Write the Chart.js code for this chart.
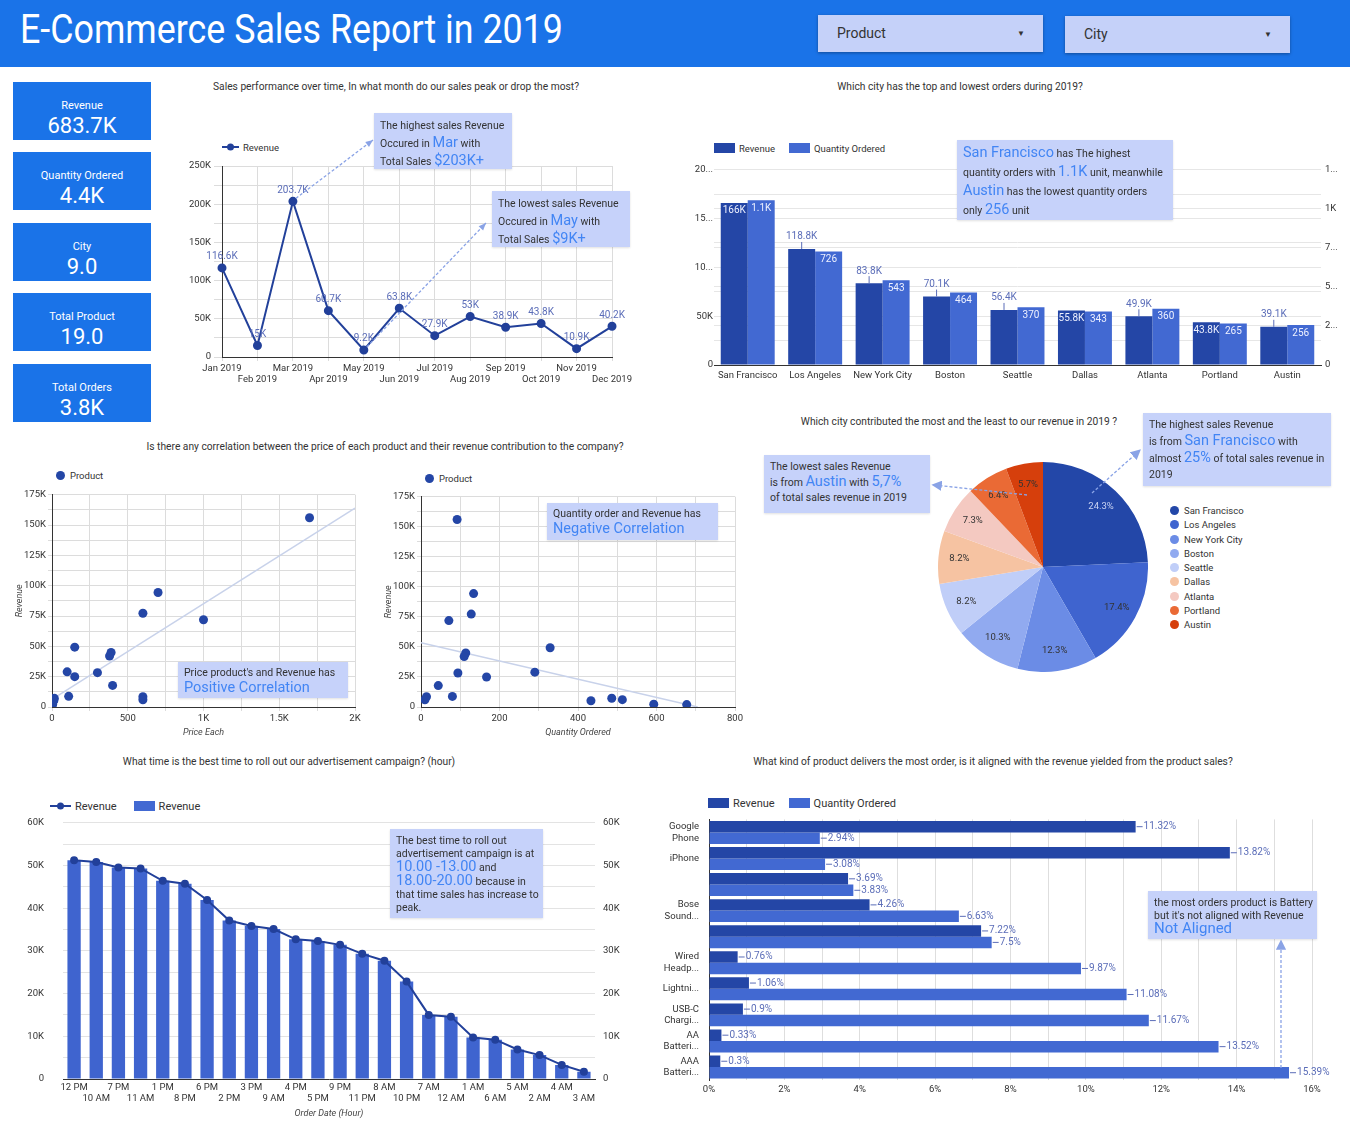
<!DOCTYPE html>
<html>
<head>
<meta charset="utf-8">
<title>E-Commerce Sales Report in 2019</title>
<script src="https://cdn.jsdelivr.net/npm/chart.js@4.4.0/dist/chart.umd.min.js"></script>
<style>
body { margin:0; width:1350px; height:1125px; position:relative; background:#fff; font-family:Roboto, sans-serif; color:#333; overflow:hidden; }
.abs { position:absolute; }
#header { left:0; top:0; width:1350px; height:67px; background:#1a73e8; }
#header h1 { position:absolute; left:20px; top:6px; margin:0; font-weight:400; font-size:40px; color:#fff; transform:scaleX(0.895); transform-origin:left; white-space:nowrap; }
.dd { background:#c5d1f9; box-shadow:0 1px 3px rgba(0,0,0,.35); font-size:14px; width:225px; height:37px; line-height:37px; }
.dd span { margin-left:19px; }
.dd i { position:absolute; right:18px; top:0; font-style:normal; font-size:8px; }
.kpi { left:13px; width:138px; height:58px; background:#1a73e8; color:#fff; text-align:center; }
.kpi .l { font-size:11px; line-height:12px; margin-top:18px; }
.kpi .v { font-size:22px; line-height:22px; margin-top:3px; }
.title { width:700px; text-align:center; font-size:11px; white-space:nowrap; transform:scaleX(0.93); }
.box { position:absolute; }
.note { background:#c6d2fa; font-size:10.5px; line-height:17px; padding:4px 6px; box-sizing:border-box; white-space:nowrap; z-index:5; box-shadow:0 1px 2px rgba(0,0,0,.12); }
.big { color:#4285f4; font-size:14.5px; }
.lg { font-size:9.5px; white-space:nowrap; }
.sq { display:inline-block; width:21px; height:10px; vertical-align:-1px; margin-right:4px; }
.dot { display:inline-block; width:9px; height:9px; border-radius:50%; vertical-align:-1px; margin-right:5px; }
svg { position:absolute; left:0; top:0; z-index:6; pointer-events:none; }
</style>
</head>
<body>
<div id="header" class="abs"><h1>E-Commerce Sales Report in 2019</h1></div>
<div class="abs dd" style="left:818px;top:15px;"><span>Product</span><i>&#9660;</i></div>
<div class="abs dd" style="left:1065px;top:16px;"><span>City</span><i>&#9660;</i></div>

<div class="abs kpi" style="top:82px;"><div class="l">Revenue</div><div class="v">683.7K</div></div>
<div class="abs kpi" style="top:152px;"><div class="l">Quantity Ordered</div><div class="v">4.4K</div></div>
<div class="abs kpi" style="top:223px;"><div class="l">City</div><div class="v">9.0</div></div>
<div class="abs kpi" style="top:293px;"><div class="l">Total Product</div><div class="v">19.0</div></div>
<div class="abs kpi" style="top:364px;"><div class="l">Total Orders</div><div class="v">3.8K</div></div>

<div class="abs title" style="left:46px;top:80px;">Sales performance over time, In what month do our sales peak or drop the most?</div>
<div class="abs title" style="left:610px;top:80px;">Which city has the top and lowest orders during 2019?</div>
<div class="abs title" style="left:35px;top:440px;">Is there any correlation between the price of each product and their revenue contribution to the company?</div>
<div class="abs title" style="left:609px;top:415px;">Which city contributed the most and the least to our revenue in 2019 ?</div>
<div class="abs title" style="left:-61px;top:755px;">What time is the best time to roll out our advertisement campaign? (hour)</div>
<div class="abs title" style="left:643px;top:755px;">What kind of product delivers the most order, is it aligned with the revenue yielded from the product sales?</div>

<!-- legends -->
<div class="abs lg" style="left:222px;top:142px;"><svg width="17" height="10" style="position:static;vertical-align:-1px;margin-right:4px"><line x1="0" y1="5" x2="17" y2="5" stroke="#22409a" stroke-width="2"/><circle cx="8.5" cy="5" r="3.5" fill="#22409a"/></svg>Revenue</div>
<div class="abs lg" style="left:714px;top:143px;"><span class="sq" style="background:#2446a6"></span>Revenue<span class="sq" style="background:#4269d2;margin-left:14px"></span>Quantity Ordered</div>
<div class="abs lg" style="left:56px;top:470px;"><span class="dot" style="background:#2446a6"></span>Product</div>
<div class="abs lg" style="left:425px;top:473px;"><span class="dot" style="background:#2446a6"></span>Product</div>
<div class="abs lg" style="left:50px;top:800px;font-size:11px;"><svg width="21" height="10" style="position:static;vertical-align:-1px;margin-right:4px"><line x1="0" y1="5" x2="21" y2="5" stroke="#22409a" stroke-width="2"/><circle cx="10.5" cy="5" r="3.5" fill="#22409a"/></svg>Revenue<span class="sq" style="background:#4269d2;margin-left:17px"></span>Revenue</div>
<div class="abs lg" style="left:708px;top:797px;font-size:11px;"><span class="sq" style="background:#2446a6"></span>Revenue<span class="sq" style="background:#4269d2;margin-left:14px"></span>Quantity Ordered</div>
<div id="pieLegend" class="abs lg" style="left:1170px;top:504px;"></div>

<!-- charts -->
<div class="box" style="left:182px;top:110px;width:452px;height:281px;"><canvas id="monthChart"></canvas></div>
<div class="box" style="left:680px;top:160px;width:667px;height:227px;"><canvas id="cityChart"></canvas></div>
<div class="box" style="left:6px;top:487px;width:361px;height:254px;"><canvas id="priceChart"></canvas></div>
<div class="box" style="left:375px;top:489px;width:372px;height:252px;"><canvas id="qtyChart"></canvas></div>
<div class="box" style="left:938px;top:462px;width:210px;height:210px;"><canvas id="pieChart"></canvas></div>
<div class="box" style="left:12px;top:798px;width:615px;height:321px;"><canvas id="hourChart"></canvas></div>
<div class="box" style="left:650px;top:806px;width:687px;height:294px;"><canvas id="productChart"></canvas></div>

<!-- notes -->
<div class="abs note" style="left:374px;top:113px;width:138px;height:56px;">The highest sales Revenue<br>Occured in <span class="big">Mar</span> with<br>Total Sales <span class="big">$203K+</span></div>
<div class="abs note" style="left:492px;top:191px;width:138px;height:56px;">The lowest sales Revenue<br>Occured in <span class="big">May</span> with<br>Total Sales <span class="big">$9K+</span></div>
<div class="abs note" style="left:957px;top:140px;width:216px;height:80px;line-height:18px;"><span class="big">San Francisco</span> has The highest<br>quantity orders with <span class="big">1.1K</span> unit, meanwhile<br><span class="big">Austin</span> has the lowest quantity orders<br>only <span class="big">256</span> unit</div>
<div class="abs note" style="left:178px;top:662px;width:170px;height:36px;line-height:15px;padding-top:3px;">Price product's and Revenue has<br><span class="big">Positive Correlation</span></div>
<div class="abs note" style="left:547px;top:503px;width:171px;height:37px;line-height:15px;padding-top:3px;">Quantity order and Revenue has<br><span class="big">Negative Correlation</span></div>
<div class="abs note" style="left:1143px;top:413px;width:188px;height:73px;line-height:16px;">The highest sales Revenue<br>is from <span class="big">San Francisco</span> with<br>almost <span class="big">25%</span> of total sales revenue in<br>2019</div>
<div class="abs note" style="left:764px;top:455px;width:166px;height:58px;line-height:15px;">The lowest sales Revenue<br>is from <span class="big">Austin</span> with <span class="big">5,7%</span><br>of total sales revenue in 2019</div>
<div class="abs note" style="left:390px;top:829px;width:153px;height:89px;line-height:13px;padding-top:5px;">The best time to roll out<br>advertisement campaign is at<br><span class="big">10.00 -13.00</span> and<br><span class="big">18.00-20.00</span> because in<br>that time sales has increase to<br>peak.</div>
<div class="abs note" style="left:1148px;top:891px;width:169px;height:48px;line-height:13px;padding-top:5px;">the most orders product is Battery<br>but it's not aligned with Revenue<br><span class="big" style="font-size:15px">Not Aligned</span></div>

<svg width="1350" height="1125">
  <defs><marker id="ah" markerWidth="8" markerHeight="8" refX="6" refY="4" orient="auto"><path d="M0,0 L8,4 L0,8 z" fill="#8aa3e6"/></marker></defs>
  <g stroke="#8aa3e6" stroke-width="1.3" stroke-dasharray="3,2" fill="none" marker-end="url(#ah)">
    <line x1="1092" y1="493" x2="1139" y2="451"/>
    <line x1="1027" y1="495" x2="934" y2="485"/>
    <line x1="1281" y1="1068" x2="1281" y2="942"/>
  </g>
</svg>

<script>
// Sales per month
const months = ['Jan 2019', 'Feb 2019', 'Mar 2019', 'Apr 2019', 'May 2019', 'Jun 2019',
    'Jul 2019', 'Aug 2019', 'Sep 2019', 'Oct 2019', 'Nov 2019', 'Dec 2019'];
const monthRevenue = [116600, 15000, 203700, 60700, 9200, 63800, 27900, 53000, 38900, 43800, 10900, 40200];

// Orders per city
const cities = ['San Francisco', 'Los Angeles', 'New York City', 'Boston', 'Seattle', 'Dallas', 'Atlanta', 'Portland', 'Austin'];
const cityRevenue = [166000, 118800, 83800, 70100, 56400, 55800, 49900, 43800, 39100];
const cityQty = [1055, 726, 543, 464, 370, 343, 360, 265, 256];

// Products (one entry per product, same order in each array)
const priceEach = [1700, 700, 600, 1000, 150, 390, 380, 100, 300, 150, 400, 110, 600, 600, 15, 12, 12, 4, 3];
const productQty = [92, 134, 128, 71, 329, 114, 110, 290, 94, 167, 44, 80, 14, 10, 486, 513, 433, 593, 677];
const productRevenue = [156000, 94400, 77300, 71900, 49300, 44900, 42000, 29000, 28300, 25000, 17800, 8800, 8500, 6000, 7300, 6100, 5200, 2300, 2000];
const priceTrend = [[0, 6300], [2000, 164000]];
const qtyTrend = [[0, 53500], [705, 0]];

// Revenue by hour (sorted)
const hours = ['12 PM', '10 AM', '7 PM', '11 AM', '1 PM', '8 PM', '6 PM', '2 PM', '3 PM', '9 AM', '4 PM', '5 PM',
    '9 PM', '11 PM', '8 AM', '10 PM', '7 AM', '12 AM', '1 AM', '6 AM', '5 AM', '2 AM', '4 AM', '3 AM'];
const hourRevenue = [51200, 50800, 49500, 49300, 46400, 45700, 41900, 37100, 35800, 35100, 32700, 32300,
    31400, 29300, 27700, 22800, 15000, 14600, 9700, 9200, 6900, 5600, 3300, 1700];

// Product share (%)
const productNames = [['Google', 'Phone'], 'iPhone', '', ['Bose', 'Sound...'], '', ['Wired', 'Headp...'],
    'Lightni...', ['USB-C', 'Chargi...'], ['AA', 'Batteri...'], ['AAA', 'Batteri...']];
const productRevPct = [11.32, 13.82, 3.69, 4.26, 7.22, 0.76, 1.06, 0.9, 0.33, 0.3];
const productQtyPct = [2.94, 3.08, 3.83, 6.63, 7.5, 9.87, 11.08, 11.67, 13.52, 15.39];

const darkBlue = '#2446a6';
const midBlue = '#4269d2';
const navy = '#22409a';
const labelBlue = '#5b6db8';
const gridColor = '#dcdcdc';
const cityColors = ['#2347a8', '#3f64cf', '#6b8ce6', '#91aaf0', '#c0cef8', '#f6c3a2', '#f4c9c1', '#ea6a35', '#d63f0c'];

Chart.defaults.font.family = 'Roboto, sans-serif';
Chart.defaults.font.size = 9.5;
Chart.defaults.color = '#444';
Chart.defaults.animation = false;
Chart.defaults.maintainAspectRatio = false;
Chart.defaults.plugins.legend.display = false;
Chart.defaults.plugins.tooltip.enabled = false;

function fmtK(v) {
    if (v === 0) return '0';
    if (Math.abs(v) >= 1000) return (+(v / 1000).toFixed(1)) + 'K';
    return String(v);
}

function dashedArrow(ctx, x1, y1, x2, y2) {
    ctx.save();
    ctx.strokeStyle = '#8aa3e6';
    ctx.fillStyle = '#8aa3e6';
    ctx.lineWidth = 1.3;
    ctx.setLineDash([3, 2]);
    ctx.beginPath();
    ctx.moveTo(x1, y1);
    ctx.lineTo(x2, y2);
    ctx.stroke();
    const a = Math.atan2(y2 - y1, x2 - x1);
    ctx.setLineDash([]);
    ctx.beginPath();
    ctx.moveTo(x2, y2);
    ctx.lineTo(x2 - 8 * Math.cos(a - 0.4), y2 - 8 * Math.sin(a - 0.4));
    ctx.lineTo(x2 - 8 * Math.cos(a + 0.4), y2 - 8 * Math.sin(a + 0.4));
    ctx.closePath();
    ctx.fill();
    ctx.restore();
}

// Curve 1 - monthly revenue
const monthLabels = {
    id: 'monthLabels',
    afterDatasetsDraw(chart) {
        const ctx = chart.ctx;
        const pts = chart.getDatasetMeta(0).data;
        ctx.save();
        ctx.font = '10px Roboto';
        ctx.fillStyle = labelBlue;
        ctx.textAlign = 'center';
        ctx.textBaseline = 'bottom';
        pts.forEach((p, i) => ctx.fillText(fmtK(monthRevenue[i]), p.x, p.y - 6));
        ctx.restore();
        // arrows from the peak and the low point to the notes
        dashedArrow(chart.ctx, pts[2].x + 3, pts[2].y - 3, 191, 30);
        dashedArrow(chart.ctx, pts[4].x + 3, pts[4].y - 3, 304, 113);
    }
};

new Chart(document.getElementById('monthChart'), {
    type: 'line',
    data: {
        labels: months,
        datasets: [{
            data: monthRevenue,
            borderColor: navy,
            backgroundColor: navy,
            borderWidth: 2,
            pointRadius: 3.5,
            tension: 0
        }]
    },
    options: {
        layout: { padding: { top: 56, right: 20 } },
        scales: {
            x: {
                offset: false,
                grid: { color: gridColor, tickLength: 4 },
                border: { color: '#333' },
                ticks: {
                    autoSkip: false, maxRotation: 0, padding: 2, color: '#333',
                    callback: (v, i) => i % 2 ? ['', months[i]] : months[i]
                },
                afterFit: s => { s.height = 34; }
            },
            y: {
                min: 0, max: 250000,
                grid: { color: gridColor },
                border: { color: '#333' },
                ticks: { stepSize: 25000, color: '#333', callback: v => v % 50000 ? '' : fmtK(v) },
                afterFit: s => { s.width = 40; }
            }
        }
    },
    plugins: [monthLabels]
});

// Curve 2 - city revenue vs quantity
const revInside = [true, false, false, false, false, true, false, true, false];
const qtyInside = [true, true, true, true, true, true, true, true, true];
const cityLabels = {
    id: 'cityLabels',
    afterDatasetsDraw(chart) {
        const ctx = chart.ctx;
        ctx.save();
        ctx.font = '10px Roboto';
        ctx.textAlign = 'center';
        [[cityRevenue, revInside], [cityQty, qtyInside]].forEach((pair, d) => {
            chart.getDatasetMeta(d).data.forEach((bar, i) => {
                const txt = fmtK(pair[0][i]);
                if (pair[1][i]) {
                    ctx.fillStyle = '#eef1ff';
                    ctx.textBaseline = 'top';
                    ctx.fillText(txt, bar.x, bar.y + 3);
                } else {
                    ctx.strokeStyle = labelBlue;
                    ctx.lineWidth = 1;
                    ctx.beginPath();
                    ctx.moveTo(bar.x, bar.y);
                    ctx.lineTo(bar.x, bar.y - 7);
                    ctx.stroke();
                    ctx.fillStyle = labelBlue;
                    ctx.textBaseline = 'bottom';
                    ctx.fillText(txt, bar.x, bar.y - 7);
                }
            });
        });
        ctx.restore();
    }
};

new Chart(document.getElementById('cityChart'), {
    type: 'bar',
    data: {
        labels: cities,
        datasets: [
            { label: 'Revenue', data: cityRevenue, backgroundColor: darkBlue, yAxisID: 'y' },
            { label: 'Quantity Ordered', data: cityQty, backgroundColor: midBlue, yAxisID: 'y1' }
        ]
    },
    options: {
        layout: { padding: { top: 6 } },
        datasets: { bar: { categoryPercentage: 0.8, barPercentage: 1 } },
        scales: {
            x: {
                grid: { display: false, tickLength: 0 },
                border: { color: '#333' },
                ticks: { color: '#333', maxRotation: 0, autoSkip: false, padding: 5 },
                afterFit: s => { s.height = 22; }
            },
            y: {
                min: 0, max: 200000,
                grid: { color: '#e6e6e6', tickLength: 0 },
                border: { display: false },
                ticks: {
                    stepSize: 25000, color: '#333', padding: 1,
                    callback: v => v === 0 ? '0' : v % 50000 ? '' : v === 50000 ? '50K' : String(v / 1000).slice(0, 2) + '...'
                },
                afterFit: s => { s.width = 34; }
            },
            y1: {
                position: 'right',
                min: 0, max: 1250,
                grid: { color: '#e6e6e6', tickLength: 0 },
                border: { display: false },
                ticks: {
                    stepSize: 250, color: '#333', padding: 4,
                    callback: v => v === 0 ? '0' : v === 1000 ? '1K' : String(v).slice(0, 1) + '...'
                },
                afterFit: s => { s.width = 26; }
            }
        }
    },
    plugins: [cityLabels]
});

// Curve 3 & 4 - correlation scatters
function scatterChart(id, xs, trend, xMax, xStep, xLabelStep, xTitle) {
    return new Chart(document.getElementById(id), {
        type: 'scatter',
        data: {
            datasets: [{
                data: xs.map((x, i) => ({ x: x, y: productRevenue[i] })),
                backgroundColor: darkBlue,
                pointRadius: 4.5,
                borderWidth: 0,
                order: 1
            }, {
                type: 'line',
                data: trend.map(p => ({ x: p[0], y: p[1] })),
                borderColor: '#c8d2ea',
                borderWidth: 1.5,
                pointRadius: 0,
                order: 2
            }]
        },
        options: {
            layout: { padding: { top: 6, right: 12 } },
            scales: {
                x: {
                    type: 'linear', min: 0, max: xMax,
                    grid: { color: gridColor, tickLength: 4 },
                    border: { color: '#333' },
                    ticks: { stepSize: xStep, color: '#333', padding: 2, callback: v => v % xLabelStep ? '' : fmtK(v) },
                    title: { display: true, text: xTitle, font: { style: 'italic', size: 9 }, padding: 3, color: '#444' },
                    afterFit: s => { s.height = 34; }
                },
                y: {
                    min: 0, max: 175000,
                    grid: { color: gridColor, tickLength: 4 },
                    border: { color: '#333' },
                    ticks: { stepSize: 12500, color: '#333', padding: 2, callback: v => v % 25000 ? '' : fmtK(v) },
                    title: { display: true, text: 'Revenue', font: { style: 'italic', size: 9 }, padding: { top: 8, bottom: 0 }, color: '#444' },
                    afterFit: s => { s.width = 46; }
                }
            }
        }
    });
}
scatterChart('priceChart', priceEach, priceTrend, 2000, 250, 500, 'Price Each');
scatterChart('qtyChart', productQty, qtyTrend, 800, 100, 200, 'Quantity Ordered');

// Curve 5 - revenue share by city
const pieLabels = {
    id: 'pieLabels',
    afterDatasetsDraw(chart) {
        const ctx = chart.ctx;
        const total = cityRevenue.reduce((a, b) => a + b, 0);
        ctx.save();
        ctx.font = '9.5px Roboto';
        ctx.textAlign = 'center';
        ctx.textBaseline = 'middle';
        chart.getDatasetMeta(0).data.forEach((arc, i) => {
            const a = (arc.startAngle + arc.endAngle) / 2;
            const r = arc.outerRadius * 0.8;
            ctx.fillStyle = i === 0 ? '#c9d3f2' : '#333';
            ctx.fillText((cityRevenue[i] / total * 100).toFixed(1) + '%', arc.x + r * Math.cos(a), arc.y + r * Math.sin(a));
        });
        ctx.restore();
    }
};

new Chart(document.getElementById('pieChart'), {
    type: 'pie',
    data: {
        labels: cities,
        datasets: [{ data: cityRevenue, backgroundColor: cityColors, borderWidth: 0 }]
    },
    options: { layout: { padding: 0 } },
    plugins: [pieLabels]
});

document.getElementById('pieLegend').innerHTML = cities.map((c, i) =>
    '<div style="height:14.3px;line-height:14.3px"><span class="dot" style="background:' + cityColors[i] + '"></span>' + c + '</div>'
).join('');

// Curve 6 - revenue by hour
new Chart(document.getElementById('hourChart'), {
    type: 'bar',
    data: {
        labels: hours,
        datasets: [{
            type: 'line',
            data: hourRevenue,
            borderColor: navy,
            backgroundColor: navy,
            borderWidth: 2,
            pointRadius: 3,
            order: 0
        }, {
            data: hourRevenue,
            backgroundColor: '#3f64cf',
            categoryPercentage: 0.6,
            barPercentage: 1,
            order: 1
        }]
    },
    options: {
        layout: { padding: { top: 0 } },
        scales: {
            x: {
                grid: { display: false, tickLength: 0 },
                border: { color: '#333' },
                ticks: {
                    autoSkip: false, maxRotation: 0, color: '#333', padding: 3,
                    callback: (v, i) => i % 2 ? ['', hours[i]] : hours[i]
                },
                title: { display: true, text: 'Order Date (Hour)', font: { style: 'italic', size: 9 }, padding: 0, color: '#444' },
                afterFit: s => { s.height = 40; }
            },
            y: {
                min: 0, max: 60000,
                grid: { color: '#e3e3e3', tickLength: 0 },
                border: { display: false },
                ticks: { stepSize: 5000, color: '#333', padding: 19, callback: v => v % 10000 ? '' : fmtK(v) },
                afterFit: s => { s.width = 51; }
            },
            y1: {
                position: 'right',
                min: 0, max: 60000,
                grid: { drawOnChartArea: false, display: false },
                border: { display: false },
                ticks: { stepSize: 10000, color: '#333', padding: 0, callback: v => fmtK(v) },
                afterFit: s => { s.width = 32; }
            }
        }
    }
});

// Curve 7 - product share of revenue and orders
const productLabels = {
    id: 'productLabels',
    afterDatasetsDraw(chart) {
        const ctx = chart.ctx;
        ctx.save();
        ctx.font = '10px Roboto';
        ctx.textBaseline = 'middle';
        ctx.strokeStyle = labelBlue;
        ctx.fillStyle = labelBlue;
        [productRevPct, productQtyPct].forEach((vals, d) => {
            chart.getDatasetMeta(d).data.forEach((bar, i) => {
                ctx.beginPath();
                ctx.moveTo(bar.x + 1, bar.y);
                ctx.lineTo(bar.x + 7, bar.y);
                ctx.stroke();
                ctx.fillText(vals[i] + '%', bar.x + 8, bar.y);
            });
        });
        ctx.restore();
    }
};

new Chart(document.getElementById('productChart'), {
    type: 'bar',
    data: {
        labels: productNames,
        datasets: [
            { label: 'Revenue', data: productRevPct, backgroundColor: darkBlue },
            { label: 'Quantity Ordered', data: productQtyPct, backgroundColor: midBlue }
        ]
    },
    options: {
        indexAxis: 'y',
        layout: { padding: { top: 0, right: 25 } },
        datasets: { bar: { categoryPercentage: 0.88, barPercentage: 1 } },
        scales: {
            x: {
                min: 0, max: 16,
                grid: { color: '#dedede', tickLength: 0 },
                border: { display: false },
                ticks: { stepSize: 1, color: '#333', padding: 4, callback: v => v % 2 ? '' : v + '%' },
                afterFit: s => { s.height = 20; }
            },
            y: {
                grid: { display: false },
                border: { color: '#333' },
                ticks: { color: '#333', autoSkip: false, padding: 2 },
                afterFit: s => { s.width = 59; }
            }
        }
    },
    plugins: [productLabels]
});
</script>
</body>
</html>
